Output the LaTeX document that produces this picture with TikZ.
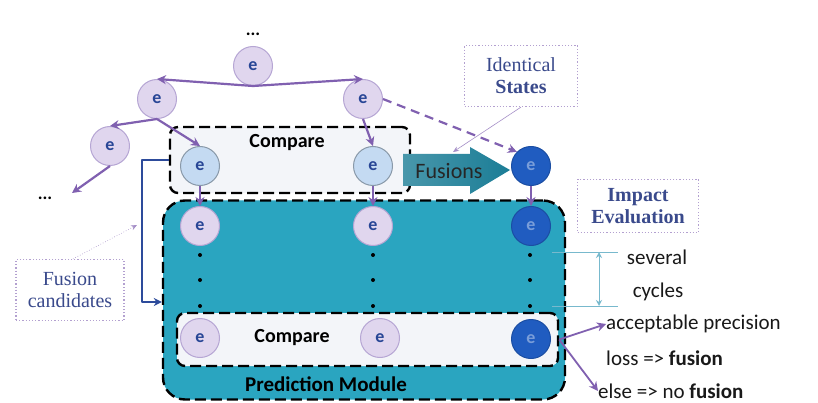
\documentclass[tikz,border=0pt]{standalone}
\usepackage{fontspec}
\setmainfont{Liberation Serif}
\setsansfont{Carlito}
\usetikzlibrary{arrows.meta,positioning}
\definecolor{edgepurple}{RGB}{128,96,176}
\definecolor{statefill}{RGB}{224,214,238}
\definecolor{stateline}{RGB}{182,166,212}
\definecolor{cmpfill}{RGB}{196,218,242}
\definecolor{darkstate}{RGB}{32,92,192}
\definecolor{modfill}{RGB}{42,165,192}
\definecolor{arrowteal}{RGB}{27,125,150}
\definecolor{notetext}{RGB}{58,74,140}
\definecolor{etext}{RGB}{40,70,150}
\definecolor{cyclecol}{RGB}{120,185,205}
\definecolor{loopblue}{RGB}{45,75,155}
\definecolor{boxfill}{RGB}{243,245,249}

\tikzset{
  state/.style={circle,draw=stateline,line width=1pt,fill=statefill,minimum size=39,
    inner sep=0pt,text=etext,font=\sffamily\bfseries\fontsize{18}{18}\selectfont},
  cmpstate/.style={state,fill=cmpfill,draw=cmpfill!70!black},
  impstate/.style={state,fill=darkstate,draw=darkstate!85!black,text=darkstate!60!white},
  flow/.style={-{Stealth[length=9,width=9]},draw=edgepurple,line width=2.2},
  groupbox/.style={draw=black,dash pattern=on 11 off 5,line width=2.4,rounded corners=8},
  note/.style={draw=edgepurple!60,dotted,line width=1.2,align=center,text=notetext,
    font=\fontsize{20}{22}\selectfont,inner sep=0pt},
  pointer/.style={-{Stealth[length=6,width=5]},draw=edgepurple!70,line width=0.6},
  sidetext/.style={font=\sffamily\fontsize{21}{21}\selectfont,inner sep=0pt,text=black!90},
  dots/.style={font=\sffamily\bfseries\fontsize{18}{18}\selectfont,inner sep=0pt}
}

\begin{document}
\begin{tikzpicture}[x=1pt,y=-1pt,line cap=butt,line join=round]
  \path[use as bounding box,fill=white] (0,0) rectangle (818,403);

  % boxes
  \node (predmod) [groupbox,fill=modfill,rounded corners=22,minimum width=402,minimum height=199] at (364,300) {};
  \node (cmptop) [groupbox,fill=boxfill,minimum width=240,minimum height=66] at (290,160) {};
  \node (cmpbot) [groupbox,fill=boxfill,minimum width=381,minimum height=53] at (367.5,339.5) {};
  \node (cmptoplbl) [font=\sffamily\bfseries\fontsize{20}{20}\selectfont] at (287,143) {Compare};
  \node (cmpbotlbl) [font=\sffamily\bfseries\fontsize{20}{20}\selectfont] at (292,338) {Compare};
  \node (predlbl) [font=\sffamily\bfseries\fontsize{21}{21}\selectfont] at (326,384) {Prediction Module};

  % search tree
  \node (topdots) [dots] at (253,34) {...};
  \node (root) [state] at (253,66) {e};
  \node (left) [state] at (157,99) {e};
  \node (right) [state] at (363,99) {e};
  \node (leftleft) [state] at (110,146) {e};
  \node (leftdots) [dots] at (45,198) {...};
  \coordinate (leftend) at (72,193);

  % candidates and predictions
  \node (candA) [cmpstate] at (200,166) {e};
  \node (candB) [cmpstate] at (373,166) {e};
  \node (fused) [impstate] at (531,166) {e};
  \node (predA) [state] at (200,226) {e};
  \node (predB) [state] at (373,226) {e};
  \node (predC) [impstate] at (531,226) {e};
  \node (lastA) [state] at (200,338) {e};
  \node (lastB) [state] at (380,338) {e};
  \node (lastC) [impstate] at (531,339) {e};

  \foreach \x in {200,373,530}
    \foreach \y in {255,280,306}
      \fill (\x,\y) circle (2);

  \draw[flow] (root.south) -- (left.north);
  \draw[flow] (root.south) -- (right.north);
  \draw[flow] (left.south) -- (leftleft.north);
  \draw[flow] (left.south) -- (candA.north);
  \draw[flow] (leftleft.south) -- (leftend);
  \draw[flow] (right.south) -- (candB.north);
  \draw[flow,dash pattern=on 9 off 6] (right.east) -- (fused.north west);
  \draw[flow] (candA.south) -- (predA.north);
  \draw[flow] (candB.south) -- (predB.north);
  \draw[flow] (fused.south) -- (predC.north);

  % fusion arrow
  \shade[left color=arrowteal!80!white,right color=arrowteal] (403,154) -- (470,154) -- (470,147)
    -- (510,170) -- (470,194) -- (470,186) -- (403,186) -- cycle;
  \node (fusions) [font=\sffamily\fontsize{22}{22}\selectfont,text=black!85] at (449,171) {Fusions};

  % feedback of fusion candidates
  \draw[loopblue,line width=1.6,-{Stealth[length=8,width=8]}]
    (cmptop.west) -- ++(-27,0) |- ([yshift=-2]predmod.west);

  % notes
  \node (identical) [note,minimum width=113,minimum height=61] at (521,76)
    {Identical\\\textbf{States}};
  \node (impact) [note,minimum width=121,minimum height=53] at (638,206)
    {\textbf{Impact}\\\textbf{Evaluation}};
  \node (candnote) [note,minimum width=108,minimum height=61] at (70,290)
    {Fusion\\candidates};
  \coordinate (fusepoint) at (453,152);
  \coordinate (candpoint) at (137,225);
  \draw[pointer] (identical.south) -- (fusepoint);
  \draw[pointer,dotted] ([xshift=3]candnote.north) -- (candpoint);

  % cycles
  \coordinate (cycA) at (552,252);
  \coordinate (cycB) at (552,306);
  \draw[cyclecol,line width=1] (cycA) -- ++(66,0);
  \draw[cyclecol,line width=1] (cycB) -- ++(66,0);
  \draw[cyclecol,line width=1,{Stealth[length=6,width=6,open]}-{Stealth[length=6,width=6,open]}]
    ([xshift=47]cycA) -- ([xshift=47]cycB);
  \node (several) [sidetext] at (657,257) {several};
  \node (cycles) [sidetext] at (658,292) {cycles};

  % outcomes
  \node (accept) [sidetext,anchor=west] at (606,324) {acceptable precision};
  \node (loss) [sidetext,anchor=west] at (606,358) {loss => \textbf{fusion}};
  \node (other) [sidetext,anchor=west] at (598,391) {else => no \textbf{fusion}};
  \draw[flow,line width=1.8] (cmpbot.east) -- (accept.west);
  \draw[flow,line width=1.8] (cmpbot.east) -- (other.west);
\end{tikzpicture}
\end{document}
